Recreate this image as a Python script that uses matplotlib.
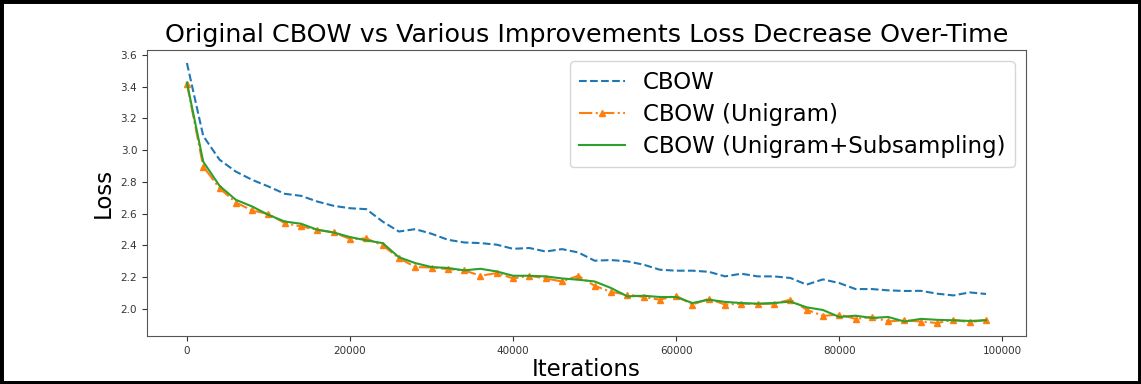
import numpy as np
import matplotlib
matplotlib.use("Agg")
import matplotlib.pyplot as plt
from matplotlib.patches import Rectangle
from matplotlib.ticker import MultipleLocator, FormatStrFormatter

# Iteraciones registradas cada 2000 pasos
iterations = list(range(0, 100000, 2000))

loss_cbow = [
    3.55, 3.09, 2.94, 2.865, 2.813, 2.771, 2.725, 2.712, 2.676, 2.649,
    2.634, 2.628, 2.55, 2.487, 2.502, 2.473, 2.435, 2.418, 2.414, 2.404,
    2.378, 2.383, 2.361, 2.376, 2.355, 2.303, 2.307, 2.299, 2.278, 2.246,
    2.24, 2.24, 2.233, 2.204, 2.221, 2.204, 2.204, 2.194, 2.152, 2.185,
    2.162, 2.124, 2.124, 2.116, 2.112, 2.113, 2.095, 2.084, 2.103, 2.093,
]

loss_unigram = [
    3.42, 2.897, 2.76, 2.67, 2.62, 2.597, 2.54, 2.519, 2.498, 2.481,
    2.44, 2.443, 2.4, 2.32, 2.263, 2.26, 2.25, 2.242, 2.208, 2.225,
    2.191, 2.208, 2.191, 2.172, 2.208, 2.145, 2.106, 2.089, 2.074, 2.057,
    2.082, 2.026, 2.063, 2.026, 2.032, 2.03, 2.032, 2.057, 1.994, 1.955,
    1.963, 1.936, 1.948, 1.92, 1.927, 1.919, 1.91, 1.93, 1.915, 1.93,
]

loss_unigram_sub = [
    3.426, 2.928, 2.775, 2.687, 2.645, 2.592, 2.55, 2.536, 2.498, 2.481,
    2.452, 2.431, 2.414, 2.325, 2.288, 2.263, 2.257, 2.242, 2.252, 2.235,
    2.208, 2.208, 2.204, 2.191, 2.183, 2.172, 2.131, 2.078, 2.082, 2.074,
    2.074, 2.036, 2.057, 2.043, 2.036, 2.032, 2.036, 2.045, 2.009, 1.992,
    1.948, 1.956, 1.942, 1.948, 1.919, 1.936, 1.93, 1.927, 1.923, 1.927,
]

fig = plt.figure(figsize=(11.41, 3.84), dpi=100)
ax = fig.add_axes([0.1288, 0.125, 0.7704, 0.7448])

ax.plot(iterations, loss_cbow, linestyle="--", color="C0", label="CBOW")
ax.plot(iterations, loss_unigram, linestyle="-.", marker="^", markersize=5,
        color="C1", label="CBOW (Unigram)")
ax.plot(iterations, loss_unigram_sub, linestyle="-", color="C2",
        label="CBOW (Unigram+Subsampling)")

ax.yaxis.set_major_locator(MultipleLocator(0.2))
ax.yaxis.set_major_formatter(FormatStrFormatter("%.1f"))

ax.set_title("Original CBOW vs Various Improvements Loss Decrease Over-Time",
             fontsize=18.3)
ax.set_xlabel("Iterations", fontsize=16.5, labelpad=2)
ax.set_ylabel("Loss", fontsize=16.5)
ax.tick_params(labelsize=7.5, colors="#333333")
for s in ax.spines.values():
    s.set_edgecolor("#555555")
ax.legend(fontsize=16.5, loc="upper right", labelspacing=0.4)

# marco negro alrededor de la figura
fig.patches.append(Rectangle((0, 0), 1, 1, transform=fig.transFigure,
                             fill=False, edgecolor="black", linewidth=5))

fig.savefig("out.png", dpi=100)
